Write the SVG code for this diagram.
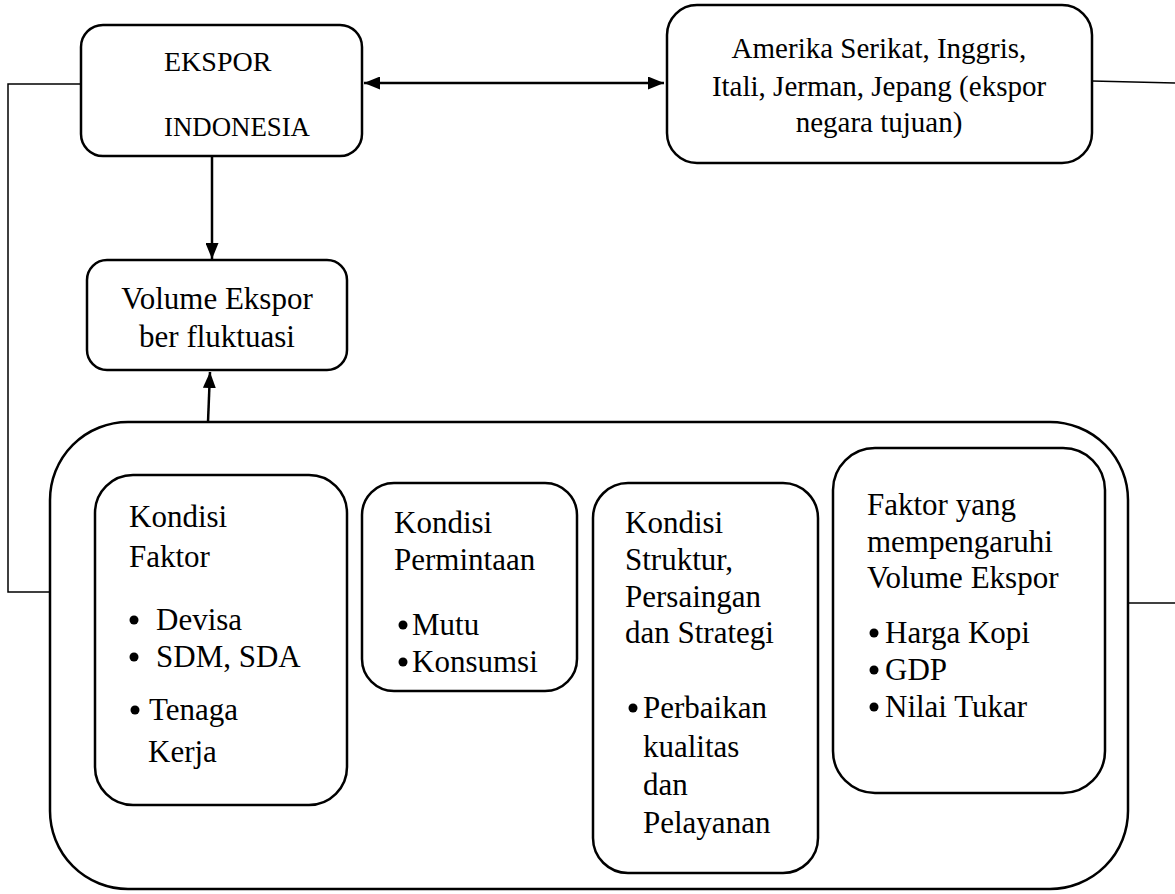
<svg xmlns="http://www.w3.org/2000/svg" width="1175" height="894" viewBox="0 0 1175 894">
<defs>
<style>
.box{fill:#fff;stroke:#000;stroke-width:2.5}
.ln{fill:none;stroke:#000;stroke-width:1.5}
.ar{fill:none;stroke:#000;stroke-width:2.5}
text{font-family:"Liberation Serif","Times New Roman",serif;font-size:31px;fill:#000}
.top{font-size:28px}
.neg{font-size:29px}
.c{text-anchor:middle}
.b{fill:#000}
</style>
<marker id="ah" viewBox="0 0 16 13" refX="16" refY="6.5" markerWidth="16" markerHeight="13" markerUnits="userSpaceOnUse" orient="auto-start-reverse">
<path d="M0,0 L16,6.5 L0,13 z" fill="#000"/>
</marker>
</defs>
<rect width="1175" height="894" fill="#fff"/>
<g id="connectors">
<line class="ar" x1="364" y1="83" x2="664" y2="83" marker-start="url(#ah)" marker-end="url(#ah)"/>
<line class="ar" x1="212" y1="157" x2="212" y2="259" marker-end="url(#ah)"/>
<line class="ar" x1="208" y1="422" x2="210" y2="372" marker-end="url(#ah)"/>
<polyline class="ln" points="81,84 8,84 8,592 50,592"/>
<line class="ln" x1="1092" y1="81" x2="1175" y2="83"/>
<line class="ln" x1="1128" y1="603" x2="1175" y2="603"/>
</g>
<g id="ekspor-indonesia">
<rect class="box" x="81" y="25" width="281" height="131" rx="22"/>
<text class="top" x="164" y="71">EKSPOR</text>
<text class="top" x="164" y="136" textLength="146" lengthAdjust="spacingAndGlyphs">INDONESIA</text>
</g>
<g id="negara-tujuan">
<rect class="box" x="667" y="5" width="425" height="158" rx="30"/>
<text class="neg c" x="879" y="58">Amerika Serikat, Inggris,</text>
<text class="neg c" x="879" y="96">Itali, Jerman, Jepang (ekspor</text>
<text class="neg c" x="879" y="132">negara tujuan)</text>
</g>
<g id="volume-ekspor">
<rect class="box" x="87" y="260" width="260" height="110" rx="20"/>
<text class="c" x="217" y="309">Volume Ekspor</text>
<text class="c" x="217" y="347">ber fluktuasi</text>
</g>
<g id="faktor-group">
<rect class="box" x="50" y="422" width="1078" height="467" rx="78"/>
</g>
<g id="kondisi-faktor">
<rect class="box" x="95" y="475" width="252" height="330" rx="38"/>
<text x="129" y="527">Kondisi</text>
<text x="129" y="567">Faktor</text>
<circle class="b" cx="134" cy="620" r="4.5"/>
<text x="156" y="630">Devisa</text>
<circle class="b" cx="134" cy="657" r="4.5"/>
<text x="156" y="667">SDM, SDA</text>
<circle class="b" cx="135" cy="710" r="4.5"/>
<text x="149" y="720">Tenaga</text>
<text x="148" y="762">Kerja</text>
</g>
<g id="kondisi-permintaan">
<rect class="box" x="362" y="483" width="215" height="208" rx="32"/>
<text x="394" y="533">Kondisi</text>
<text x="394" y="570">Permintaan</text>
<circle class="b" cx="403" cy="625" r="4.5"/>
<text x="412" y="635">Mutu</text>
<circle class="b" cx="403" cy="662" r="4.5"/>
<text x="412" y="672">Konsumsi</text>
</g>
<g id="kondisi-struktur">
<rect class="box" x="593" y="483" width="225" height="390" rx="35"/>
<text x="625" y="533">Kondisi</text>
<text x="625" y="570">Struktur,</text>
<text x="625" y="607">Persaingan</text>
<text x="625" y="643">dan Strategi</text>
<circle class="b" cx="633" cy="708" r="4.5"/>
<text x="643" y="718">Perbaikan</text>
<text x="643" y="757">kualitas</text>
<text x="643" y="795">dan</text>
<text x="643" y="833">Pelayanan</text>
</g>
<g id="faktor-volume">
<rect class="box" x="833" y="448" width="272" height="345" rx="42"/>
<text x="867" y="515">Faktor yang</text>
<text x="867" y="552">mempengaruhi</text>
<text x="867" y="588">Volume Ekspor</text>
<circle class="b" cx="874" cy="633" r="4.5"/>
<text x="885" y="643">Harga Kopi</text>
<circle class="b" cx="874" cy="670" r="4.5"/>
<text x="885" y="680">GDP</text>
<circle class="b" cx="874" cy="707" r="4.5"/>
<text x="885" y="717">Nilai Tukar</text>
</g>
</svg>
